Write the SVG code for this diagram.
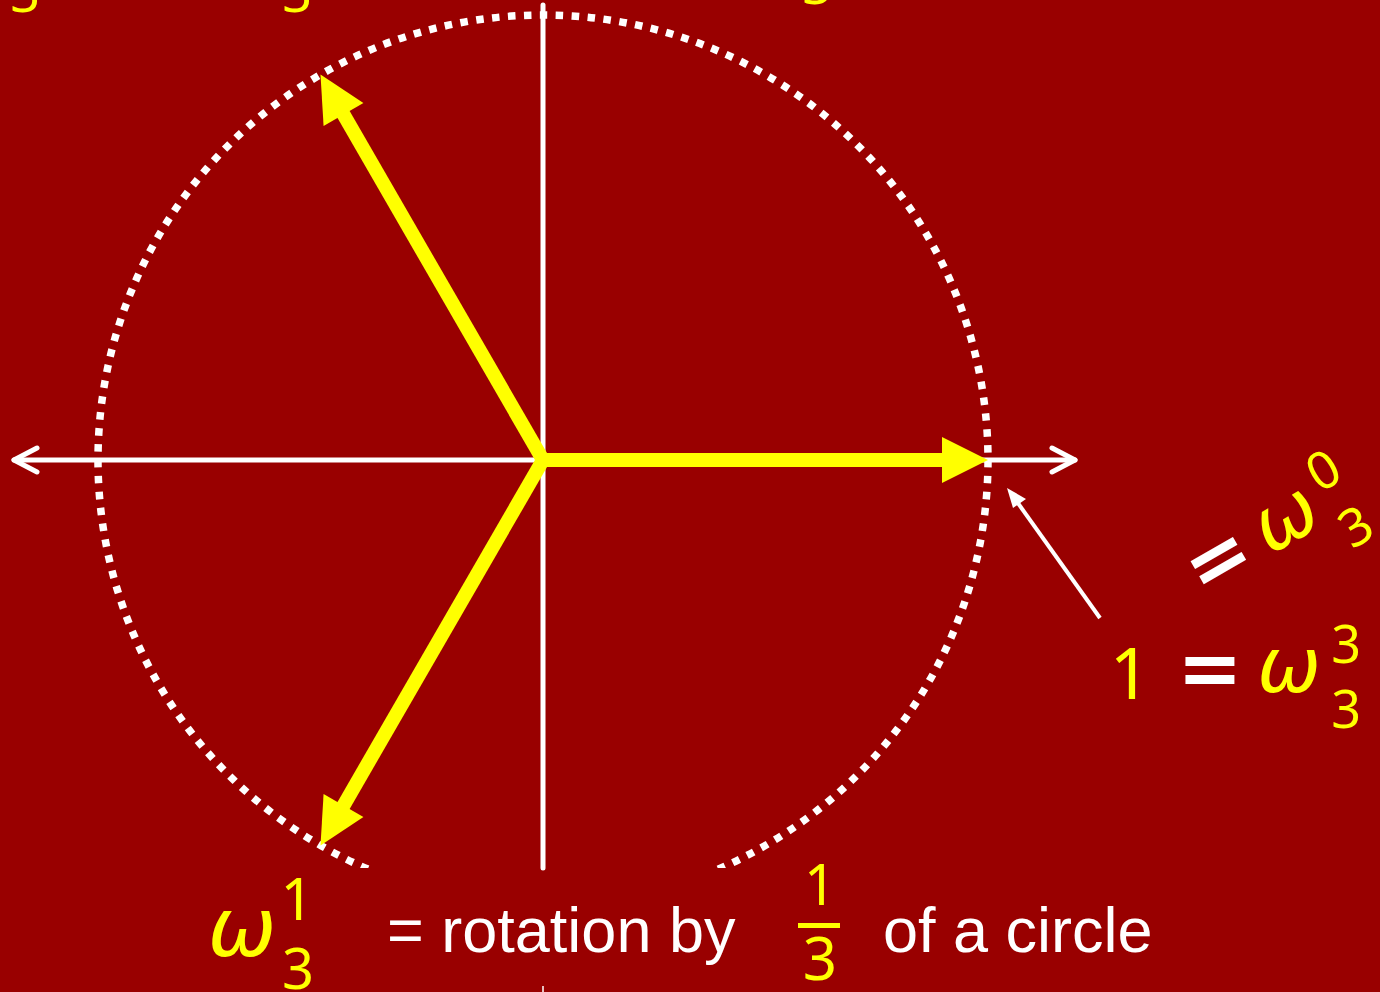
<svg xmlns="http://www.w3.org/2000/svg" width="1380" height="992" viewBox="0 0 1380 992">
<style>
.ax{stroke:#fff;stroke-width:5;fill:none;stroke-linecap:round;stroke-linejoin:round}
.yl{fill:#ffff00}
.wt{fill:#fff}
.num{font-family:"Noto Sans","DejaVu Sans",sans-serif}
.om{font-family:"DejaVu Sans",sans-serif;font-style:italic}
.eqs{font-family:"DejaVu Sans",sans-serif;font-weight:bold}
.lab{font-family:"Liberation Sans",Arial,sans-serif;font-size:63px}
</style>
<defs>
<clipPath id="top"><rect x="0" y="0" width="1380" height="868"/></clipPath>
<g id="yarrow">
<line x1="0" y1="0" x2="402" y2="0" stroke="#ffff00" stroke-width="14"/>
<polygon points="445,0 399,-23 399,23" fill="#ffff00"/>
</g>
</defs>
<rect width="1380" height="992" fill="#990000"/>
<g id="axes">
<line class="ax" x1="543" y1="5" x2="543" y2="868" stroke-width="4" stroke-linecap="butt"/>
<line class="ax" x1="14" y1="460" x2="1075" y2="460"/>
<polyline class="ax" points="1052,448 1075,460 1052,472"/>
<polyline class="ax" points="37,448 14,460 37,472"/>
<line x1="543" y1="986" x2="543" y2="992" stroke="#fff" stroke-width="1.5"/>
</g>
<g id="circle" clip-path="url(#top)">
<circle cx="543" cy="460" r="445" fill="none" stroke="#fff" stroke-width="7.5" stroke-dasharray="7.5 8.48"/>
</g>
<g id="roots">
<use href="#yarrow" transform="translate(543,460)"/>
<use href="#yarrow" transform="translate(543,460) rotate(-120)"/>
<use href="#yarrow" transform="translate(543,460) rotate(120)"/>
</g>
<g id="connectors">
<line x1="1100" y1="618" x2="1015" y2="499" stroke="#fff" stroke-width="4"/>
<polygon points="1007,488 1026,499 1013,508" fill="#fff"/>
</g>
<g id="top-labels" class="num yl" font-size="52" text-anchor="middle">
<text x="25" y="12">3</text>
<text x="297" y="12">3</text>
<text x="817" y="4">3</text>
</g>
<g id="label-one" transform="translate(1210,670)">
<text class="num yl" x="-80" y="29" font-size="72" text-anchor="middle">1</text>
<text class="eqs wt" x="0" y="25" font-size="78" text-anchor="middle">=</text>
<text class="om yl" x="79" y="22" font-size="76" text-anchor="middle">ω</text>
<text class="num yl" x="136" y="-7" font-size="52" text-anchor="middle">3</text>
<text class="num yl" x="136" y="58" font-size="52" text-anchor="middle">3</text>
</g>
<g id="label-zero" transform="translate(1218,560) rotate(-30)">
<text class="eqs wt" x="0" y="25" font-size="78" text-anchor="middle">=</text>
<text class="om yl" x="79" y="22" font-size="76" text-anchor="middle">ω</text>
<text class="num yl" x="136" y="-7" font-size="52" text-anchor="middle">0</text>
<text class="num yl" x="136" y="58" font-size="52" text-anchor="middle">3</text>
</g>
<g id="caption">
<text class="om yl" x="242" y="956" font-size="82" text-anchor="middle">ω</text>
<text class="num yl" x="297" y="920" font-size="58" text-anchor="middle">1</text>
<text class="num yl" x="298" y="989" font-size="56" text-anchor="middle">3</text>
<text class="lab wt" x="387" y="952">= rotation by</text>
<text class="num yl" x="820" y="905" font-size="56" text-anchor="middle">1</text>
<rect x="798" y="923" width="42" height="5" fill="#ffff00"/>
<text class="num yl" x="820" y="980" font-size="60" text-anchor="middle">3</text>
<text class="lab wt" x="883" y="952">of a circle</text>
</g>
</svg>
